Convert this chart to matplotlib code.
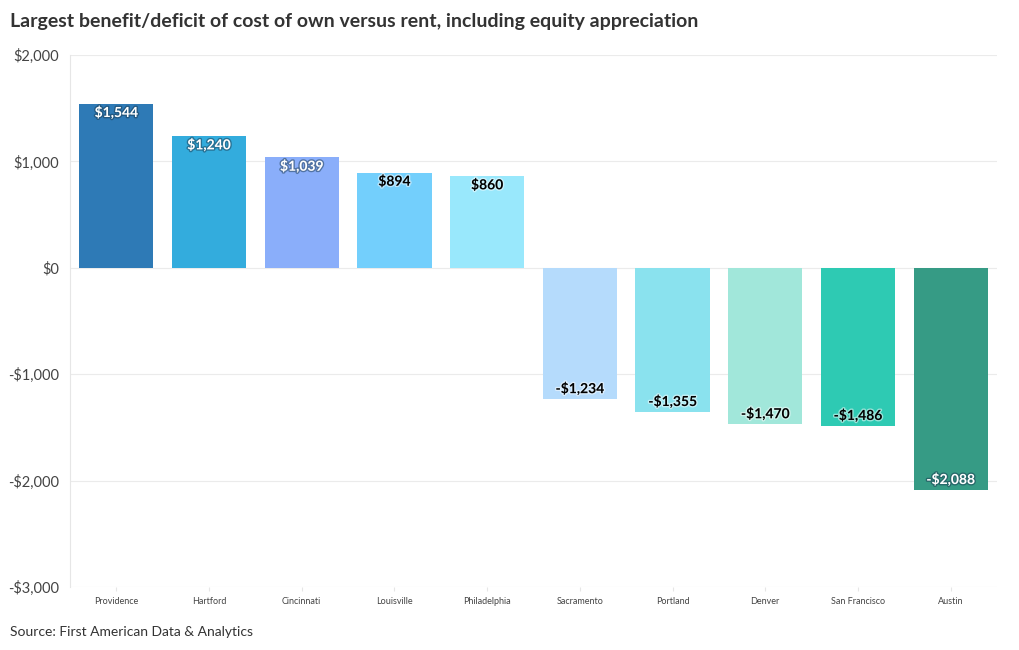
import matplotlib
matplotlib.use("Agg")
import matplotlib.pyplot as plt
import matplotlib.patheffects as pe
from matplotlib.ticker import FuncFormatter

plt.rcParams["font.family"] = ["Lato", "DejaVu Sans"]

CITIES = ["Providence", "Hartford", "Cincinnati", "Louisville", "Philadelphia",
          "Sacramento", "Portland", "Denver", "San Francisco", "Austin"]
VALUES = [1544, 1240, 1039, 894, 860, -1234, -1355, -1470, -1486, -2088]
COLORS = ["#2e7ab6", "#33acdd", "#8aaefa", "#73cffc", "#99e8fc",
          "#b5dbfc", "#8ae2ee", "#a1e7da", "#2ecab3", "#369b85"]
LIGHT_TEXT = [True, True, True, False, False, False, False, False, False, True]


def money(v, _=None):
    v = int(round(v))
    return f"-${abs(v):,}" if v < 0 else f"${v:,}"


fig = plt.figure(figsize=(10.2, 6.5), dpi=100)
ax = fig.add_axes([70 / 1020, 1 - 587 / 650, 927 / 1020, 532 / 650])

x = list(range(len(CITIES)))
ax.bar(x, VALUES, width=0.8, color=COLORS, zorder=2)

for xi, v, light in zip(x, VALUES, LIGHT_TEXT):
    off = -6.5 if v > 0 else 7.5
    fc = "white" if light else "black"
    halo = "#1a3a50" if light else "white"
    ax.annotate(money(v), (xi, v), xytext=(0, off), textcoords="offset points",
                ha="center", va="center", fontsize=10, fontweight="bold", color=fc,
                path_effects=[pe.withStroke(linewidth=2, foreground=halo, alpha=0.5)],
                zorder=3)

ax.set_xlim(-0.5, len(CITIES) - 0.5)
ax.set_ylim(-3000, 2000)
ax.set_yticks([-3000, -2000, -1000, 0, 1000, 2000])
ax.yaxis.set_major_formatter(FuncFormatter(money))
ax.set_xticks(x)
ax.set_xticklabels(CITIES, fontsize=6.5, color="#444444")
ax.tick_params(axis="y", labelsize=10.5, labelcolor="#444444", length=0, pad=8)
ax.tick_params(axis="x", length=3, color="#e6e6e6", pad=4)
ax.grid(axis="y", color="#ebebeb", lw=0.8, zorder=0)
for s in ["top", "right"]:
    ax.spines[s].set_visible(False)
ax.spines["bottom"].set_visible(False)
ax.spines["left"].set_color("#e6e6e6")

fig.text(10 / 1020, 1 - 22 / 650, "Largest benefit/deficit of cost of own versus rent, including equity appreciation",
         fontsize=14, fontweight="bold", color="#333333", va="center")
fig.text(10 / 1020, 1 - 632 / 650, "Source: First American Data & Analytics",
         fontsize=10, color="#333333", va="center")

fig.savefig("out.png", dpi=100)
